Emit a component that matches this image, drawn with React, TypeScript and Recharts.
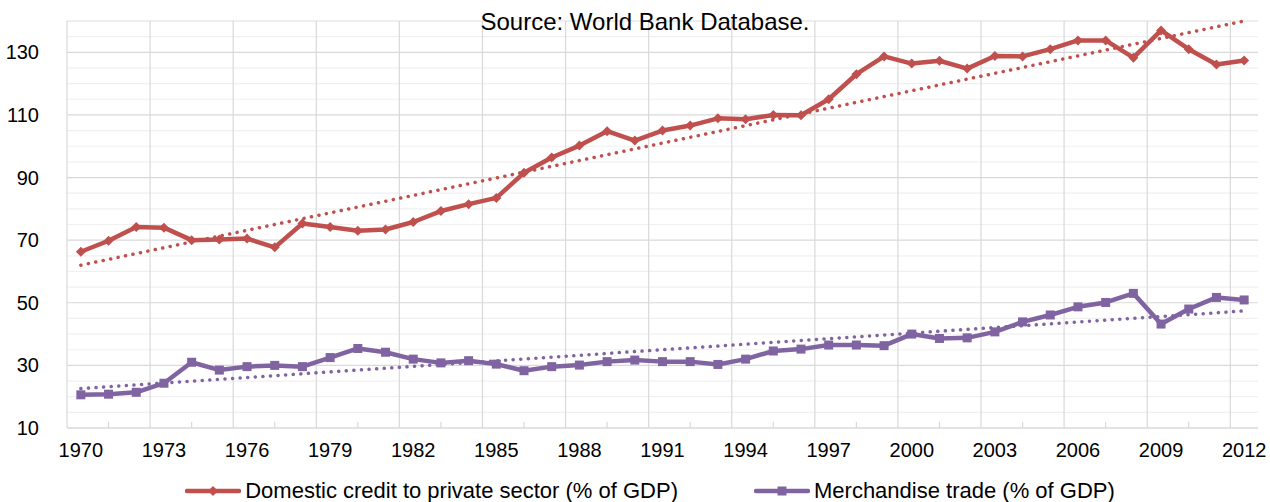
import React from 'react';
import { LineChart, Line, XAxis, YAxis, CartesianGrid, ReferenceLine } from 'recharts';

const years = [
  1970, 1971, 1972, 1973, 1974, 1975, 1976, 1977, 1978, 1979,
  1980, 1981, 1982, 1983, 1984, 1985, 1986, 1987, 1988, 1989,
  1990, 1991, 1992, 1993, 1994, 1995, 1996, 1997, 1998, 1999,
  2000, 2001, 2002, 2003, 2004, 2005, 2006, 2007, 2008, 2009,
  2010, 2011, 2012,
];

// Domestic credit to private sector (% of GDP)
const domesticCredit = [
  66.3, 69.8, 74.2, 74.0, 70.0, 70.2, 70.5, 67.7, 75.3, 74.2,
  73.0, 73.4, 75.8, 79.3, 81.5, 83.5, 91.5, 96.4, 100.2, 104.8,
  101.8, 105.0, 106.6, 108.9, 108.6, 110.0, 109.9, 115.0, 123.0, 128.7,
  126.4, 127.3, 124.8, 128.8, 128.7, 131.0, 133.8, 133.8, 128.3, 137.0,
  131.0, 126.1, 127.4,
];

// Merchandise trade (% of GDP)
const merchandiseTrade = [
  20.6, 20.8, 21.4, 24.3, 31.0, 28.5, 29.6, 30.0, 29.6, 32.5,
  35.4, 34.2, 32.0, 30.8, 31.5, 30.4, 28.3, 29.6, 30.1, 31.2,
  31.7, 31.2, 31.2, 30.3, 32.0, 34.6, 35.2, 36.5, 36.5, 36.3,
  40.0, 38.6, 38.8, 40.7, 43.9, 46.1, 48.7, 50.1, 53.0, 43.2,
  48.0, 51.7, 50.9,
];

// linear trend endpoints as drawn (dotted)
const creditTrend = [
  { year: 1970, v: 62.0 },
  { year: 2012, v: 140.0 },
];
const tradeTrend = [
  { year: 1970, v: 22.6 },
  { year: 2012, v: 47.4 },
];

const xTicks = [1970, 1973, 1976, 1979, 1982, 1985, 1988, 1991, 1994, 1997, 2000, 2003, 2006, 2009, 2012];
const xGridLines = [1969.5, 1972.5, 1975.5, 1978.5, 1981.5, 1984.5, 1987.5, 1990.5, 1993.5, 1996.5, 1999.5, 2002.5, 2005.5, 2008.5, 2011.5];
const xMinorTicks = [1971, 1974, 1977, 1980, 1983, 1986, 1989, 1992, 1995, 1998, 2001, 2004, 2007, 2010];
const yTicks = [10, 30, 50, 70, 90, 110, 130];
const yMinorLines = [15, 20, 25, 35, 40, 45, 55, 60, 65, 75, 80, 85, 95, 100, 105, 115, 120, 125, 135, 140];

const RED = '#c0504d';
const PURPLE = '#8064a2';
const FONT = '"Liberation Sans", Arial, sans-serif';

const chartData = years.map((year, i) => ({
  year,
  credit: domesticCredit[i],
  trade: merchandiseTrade[i],
}));

const DiamondDot = (props: any) => {
  const { cx, cy, index } = props;
  if (cx == null || cy == null) return null;
  const s = 5;
  return <path key={`d-${index}`} d={`M${cx} ${cy - s}L${cx + s} ${cy}L${cx} ${cy + s}L${cx - s} ${cy}Z`} fill={RED} />;
};

const SquareDot = (props: any) => {
  const { cx, cy, index } = props;
  if (cx == null || cy == null) return null;
  const s = 4.5;
  return <rect key={`s-${index}`} x={cx - s} y={cy - s} width={s * 2} height={s * 2} fill={PURPLE} />;
};

const LegendIcon = ({ color, marker }: { color: string; marker: 'diamond' | 'square' }) => (
  <svg width={56} height={12} style={{ marginRight: 4 }}>
    <line x1={2} y1={6} x2={54} y2={6} stroke={color} strokeWidth={4.5} strokeLinecap="round" />
    {marker === 'diamond' ? (
      <path d="M28 1L33 6L28 11L23 6Z" fill={color} />
    ) : (
      <rect x={23.5} y={1.5} width={9} height={9} fill={color} />
    )}
  </svg>
);

const App: React.FC = () => {
  return (
    <div style={{ position: 'absolute', left: 0, top: 0, width: 1270, height: 502, background: '#fff', fontFamily: FONT, overflow: 'hidden' }}>
      <LineChart
        width={1270}
        height={502}
        data={chartData}
        margin={{ top: 21, right: 12, bottom: 34, left: 0 }}
      >
        {yMinorLines.map((y) => (
          <ReferenceLine key={`ym-${y}`} y={y} stroke="#f0f0f0" strokeWidth={1.2} />
        ))}
        <CartesianGrid vertical={false} stroke="#d9d9d9" strokeWidth={1.2} />
        {xGridLines.map((x) => (
          <ReferenceLine key={`xg-${x}`} x={x} stroke="#d9d9d9" strokeWidth={1.2} />
        ))}
        {xMinorTicks.map((x) => (
          <ReferenceLine
            key={`xt-${x}`}
            segment={[{ x, y: 10 }, { x, y: 12 }]}
            stroke="#d9d9d9"
            strokeWidth={1.2}
          />
        ))}
        <XAxis
          dataKey="year"
          type="number"
          domain={[1969.5, 2012.5]}
          ticks={xTicks}
          interval={0}
          height={40}
          tickLine={false}
          axisLine={{ stroke: '#d9d9d9', strokeWidth: 1.2 }}
          tickMargin={9}
          tick={{ fill: '#000', fontSize: 20, fontFamily: FONT }}
        />
        <YAxis
          domain={[10, 140]}
          ticks={yTicks}
          interval={0}
          width={67}
          axisLine={false}
          tickLine={false}
          tickMargin={22}
          tick={{ fill: '#000', fontSize: 20, fontFamily: FONT }}
        />
        <Line
          data={creditTrend}
          dataKey="v"
          stroke={RED}
          strokeWidth={3.5}
          strokeDasharray="0.1 7.5"
          strokeLinecap="round"
          dot={false}
          activeDot={false}
          isAnimationActive={false}
        />
        <Line
          data={tradeTrend}
          dataKey="v"
          stroke={PURPLE}
          strokeWidth={3.5}
          strokeDasharray="0.1 7.5"
          strokeLinecap="round"
          dot={false}
          activeDot={false}
          isAnimationActive={false}
        />
        <Line
          dataKey="credit"
          type="linear"
          stroke={RED}
          strokeWidth={4.5}
          strokeLinejoin="round"
          dot={DiamondDot}
          activeDot={false}
          isAnimationActive={false}
        />
        <Line
          dataKey="trade"
          type="linear"
          stroke={PURPLE}
          strokeWidth={4.5}
          strokeLinejoin="round"
          dot={SquareDot}
          activeDot={false}
          isAnimationActive={false}
        />
      </LineChart>

      <div
        style={{
          position: 'absolute',
          left: 0,
          width: 1290,
          top: 9,
          textAlign: 'center',
          fontSize: 24,
          lineHeight: '26px',
          color: '#000',
        }}
      >
        Source: World Bank Database.
      </div>

      <div
        style={{
          position: 'absolute',
          left: 0,
          top: 479,
          width: 1300,
          display: 'flex',
          justifyContent: 'center',
          alignItems: 'center',
          fontSize: 22,
          lineHeight: '24px',
          color: '#000',
        }}
      >
        <div style={{ display: 'flex', alignItems: 'center', marginRight: 76 }}>
          <LegendIcon color={RED} marker="diamond" />
          <span>Domestic credit to private sector (% of GDP)</span>
        </div>
        <div style={{ display: 'flex', alignItems: 'center' }}>
          <LegendIcon color={PURPLE} marker="square" />
          <span>Merchandise trade (% of GDP)</span>
        </div>
      </div>
    </div>
  );
};

export default App;
